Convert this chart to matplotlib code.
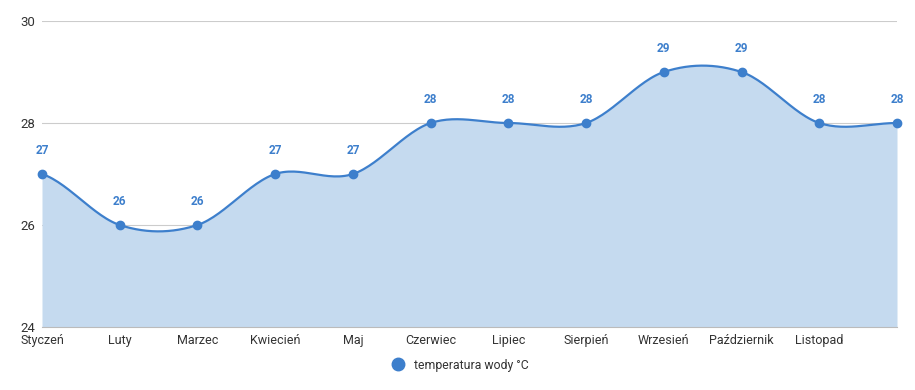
import numpy as np
import matplotlib.pyplot as plt
from matplotlib.lines import Line2D

months = ['Styczeń', 'Luty', 'Marzec', 'Kwiecień', 'Maj', 'Czerwiec', 'Lipiec',
          'Sierpień', 'Wrzesień', 'Październik', 'Listopad', 'Grudzień']
temps = [27, 26, 26, 27, 27, 28, 28, 28, 29, 29, 28, 28]
series_name = 'temperatura wody °C'

line_col = '#3d7fcc'
fill_col = '#c5daef'

plt.rcParams['font.family'] = ['Roboto', 'DejaVu Sans']


def smooth(x, y, n=30):
    # catmull-rom style curve through the points
    x = np.asarray(x, float)
    y = np.asarray(y, float)
    px = np.concatenate([[x[0]], x, [x[-1]]])
    py = np.concatenate([[y[0]], y, [y[-1]]])
    xs, ys = [], []
    t = np.linspace(0, 1, n)
    for i in range(1, len(px) - 2):
        p0, p1, p2, p3 = py[i - 1], py[i], py[i + 1], py[i + 2]
        m1 = (p2 - p0) / 2
        m2 = (p3 - p1) / 2
        h00 = 2 * t**3 - 3 * t**2 + 1
        h10 = t**3 - 2 * t**2 + t
        h01 = -2 * t**3 + 3 * t**2
        h11 = t**3 - t**2
        ys.append(h00 * p1 + h10 * m1 + h01 * p2 + h11 * m2)
        xs.append(px[i] + t * (px[i + 1] - px[i]))
    return np.concatenate(xs), np.concatenate(ys)


x = np.arange(len(months))
sx, sy = smooth(x, temps)

fig = plt.figure(figsize=(9.15, 3.9), dpi=100)
ax = fig.add_axes([42 / 915, 63 / 390, 855 / 915, 306 / 390])

ax.fill_between(sx, 24, sy, color=fill_col, lw=0, zorder=1)
ax.plot(sx, sy, color=line_col, lw=1.6, zorder=3)
ax.plot(x, temps, 'o', color=line_col, ms=6, zorder=4, clip_on=False)

for xi, v in zip(x, temps):
    ax.annotate(str(v), (xi, v), xytext=(0, 12), textcoords='offset points',
                ha='center', va='bottom', fontsize=8.5, fontweight='bold',
                color=line_col)

ax.set_xlim(0, len(months) - 1)
ax.set_ylim(24, 30)
ax.set_yticks([24, 26, 28, 30])
ax.grid(axis='y', color='#cccccc', lw=0.8, zorder=0)
ax.set_axisbelow(True)
for s in ['top', 'right', 'left']:
    ax.spines[s].set_visible(False)
ax.spines['bottom'].set_color('#bbbbbb')
ax.spines['bottom'].set_zorder(2)

ax.set_xticks(x[:-1])
ax.set_xticklabels(months[:-1], fontsize=9, color='#333333')
ax.tick_params(axis='x', length=0, pad=5)
ax.tick_params(axis='y', length=0, pad=5, labelsize=9.5, labelcolor='#333333')
ax.get_yticklabels()[0].set_verticalalignment('center_baseline')

handle = Line2D([], [], marker='o', ls='none', color=line_col, ms=9)
fig.legend([handle], [series_name], loc='center', bbox_to_anchor=(457 / 915, 1 - 365 / 390),
           frameon=False, fontsize=8.8, handletextpad=0.3, labelcolor='#333333')

fig.savefig('out.png', dpi=100)
